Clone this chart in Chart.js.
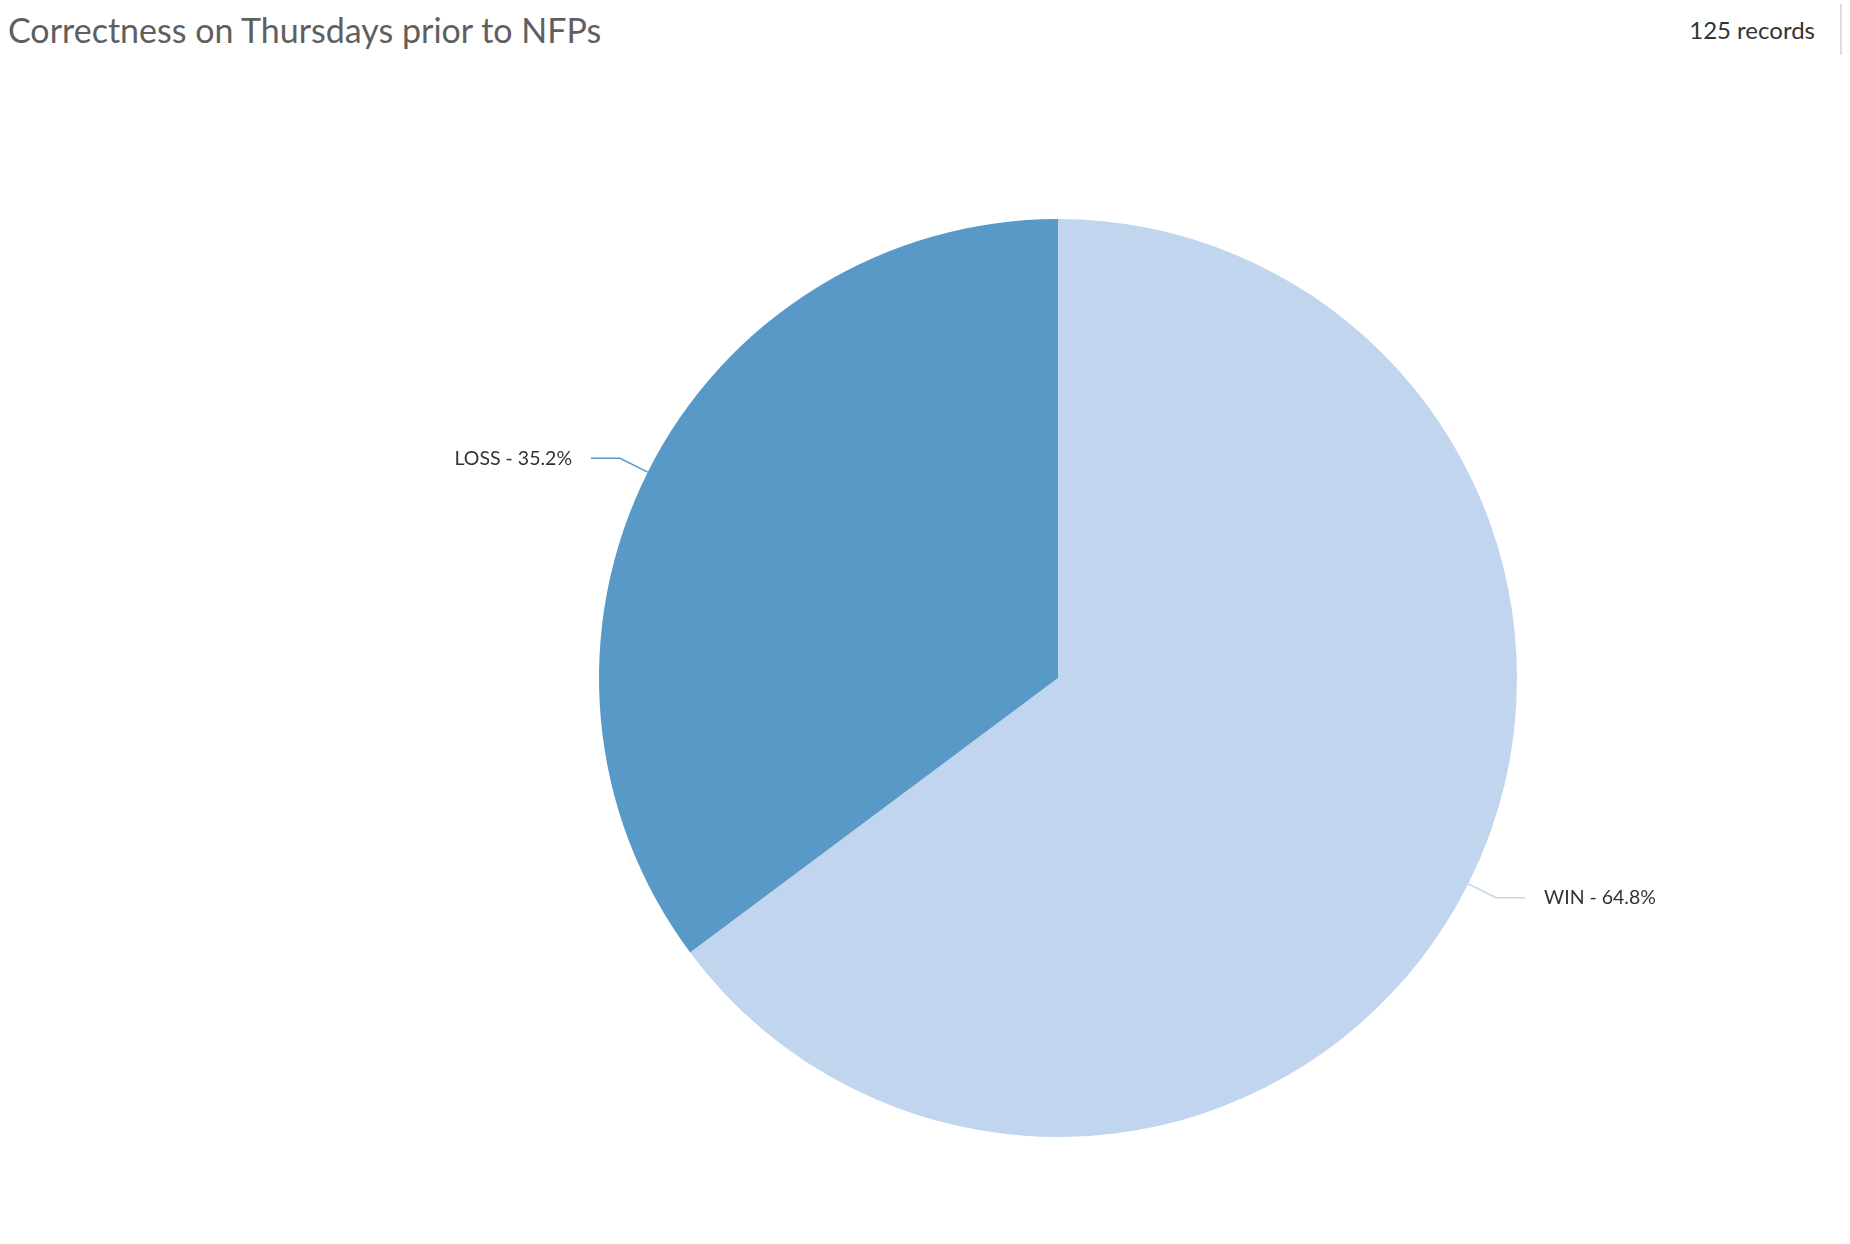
<!DOCTYPE html>
<html>
<head>
<meta charset="utf-8">
<script src="https://cdn.jsdelivr.net/npm/chart.js"></script>
<style>
  body { margin: 0; background: #fff; font-family: Lato, sans-serif; }
  #wrap { position: relative; width: 1850px; height: 1244px; overflow: hidden; }
  #title { position: absolute; left: 8px; top: 9px; font-size: 34px; color: #5f5f5f; white-space: nowrap; }
  #count { position: absolute; right: 35px; top: 15px; font-size: 24px; color: #333; white-space: nowrap; }
  #sep { position: absolute; left: 1840px; top: 4px; width: 2px; height: 51px; background: #ddd; }
  #graf { position: absolute; left: 0; top: 0; }
</style>
</head>
<body>
<div id="wrap">
  <div id="title">Correctness on Thursdays prior to NFPs</div>
  <div id="count">125 records</div>
  <div id="sep"></div>
  <canvas id="graf" width="1850" height="1244"></canvas>
</div>
<script>
const graf = document.querySelector('#graf');

// Data: antal poster per utfall
const labels = ['WIN', 'LOSS'];
const counts = [81, 44];
const colors = ['#c2d5ee', '#5899c8'];

const total = counts.reduce((a, b) => a + b, 0);

// Rita etiketter med linjer utanför tårtan
const leaderLabels = {
    id: 'leaderLabels',
    afterDatasetsDraw(chart) {
        const ctx = chart.ctx;
        const meta = chart.getDatasetMeta(0);
        ctx.save();
        ctx.font = '19.5px Lato, sans-serif';
        ctx.textBaseline = 'middle';
        meta.data.forEach((arc, i) => {
            const mid = (arc.startAngle + arc.endAngle) / 2;
            const cos = Math.cos(mid), sin = Math.sin(mid);
            const r = arc.outerRadius;
            const x0 = arc.x + cos * r, y0 = arc.y + sin * r;
            const x1 = arc.x + cos * (r + 31), y1 = arc.y + sin * (r + 31);
            const dir = cos >= 0 ? 1 : -1;
            const x2 = x1 + dir * 29;
            ctx.strokeStyle = colors[i];
            ctx.lineWidth = 1.5;
            ctx.beginPath();
            ctx.moveTo(x0, y0);
            ctx.lineTo(x1, y1);
            ctx.lineTo(x2, y1);
            ctx.stroke();
            const pct = (counts[i] / total * 100).toFixed(1);
            ctx.fillStyle = '#333';
            ctx.textAlign = dir > 0 ? 'left' : 'right';
            ctx.fillText(labels[i] + ' - ' + pct + '%', x2 + dir * 19, y1);
        });
        ctx.restore();
    }
};

new Chart(graf, {
    type: 'pie',
    data: {
        labels,
        datasets: [{
            data: counts,
            backgroundColor: colors,
            borderWidth: 0
        }]
    },
    options: {
        responsive: false,
        animation: false,
        layout: { padding: { left: 599, top: 219, right: 333, bottom: 107 } },
        plugins: {
            legend: { display: false },
            tooltip: { enabled: false }
        }
    },
    plugins: [leaderLabels]
});
</script>
</body>
</html>
